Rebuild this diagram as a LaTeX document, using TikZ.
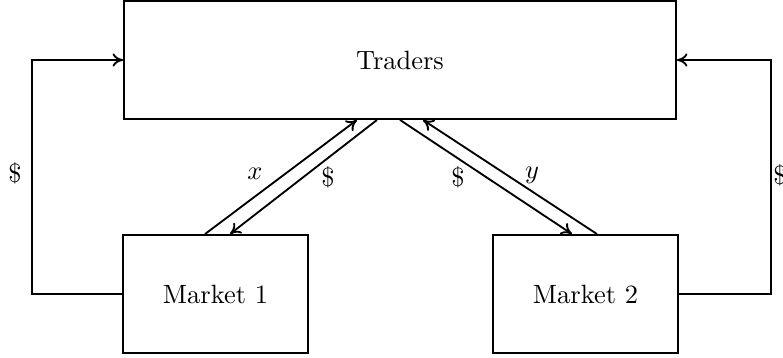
\documentclass[tikz,border=0pt]{standalone}
\usepackage{amsmath, amssymb}
\usepackage{tikz}
\usetikzlibrary{arrows.meta,calc}

\begin{document}
\begin{tikzpicture}[x=1.33cm,y=1.33cm,line width=0.7pt,
    box/.style={draw,rectangle,inner sep=0pt,minimum height=1.57cm},
    flow/.style={-{To[length=4pt,width=5pt]}}]
        \useasboundingbox (0,0) rectangle (7.83,3.58);
        \node[box,minimum width=7.34cm] (tr) at (4.00,2.98) {Traders};
        \node[box,minimum width=2.46cm] (mkt1) at (2.155,0.64) {Market 1};
        \node[box,minimum width=2.46cm] (mkt2) at (5.855,0.64) {Market 2};
        % ends of the slanted lines
        \coordinate (tA) at ($(tr.south)+(-0.43,0)$);
        \coordinate (tB) at ($(tr.south)+(-0.23,0)$);
        \coordinate (tC) at ($(tr.south)+(0,0)$);
        \coordinate (tD) at ($(tr.south)+(0.23,0)$);
        \coordinate (mA) at ($(mkt1.north)+(-0.105,0)$);
        \coordinate (mB) at ($(mkt1.north)+(0.145,0)$);
        \coordinate (mC) at ($(mkt2.north)+(-0.135,0)$);
        \coordinate (mD) at ($(mkt2.north)+(0.115,0)$);
        \draw[flow](mA)--(tA);
        \draw[flow](tB)--(mB);
        \draw[flow](tC)--(mC);
        \draw[flow](mD)--(tD);
        % side loops
        \draw[flow](mkt1.west)--++(-0.90,0)|-(tr.west);
        \draw[flow](mkt2.east)--++(0.92,0)|-(tr.east);
        \node (dl) at (0.15,1.85) {\$};
        \node[anchor=west,inner sep=0pt] (dr) at (7.725,1.83) {\$};
        \node (lx) at (2.55,1.84) {$x$};
        \node (d1) at (3.28,1.81) {\$};
        \node (d2) at (4.58,1.81) {\$};
        \node (ly) at (5.32,1.83) {$y$};
      \end{tikzpicture}
\end{document}
